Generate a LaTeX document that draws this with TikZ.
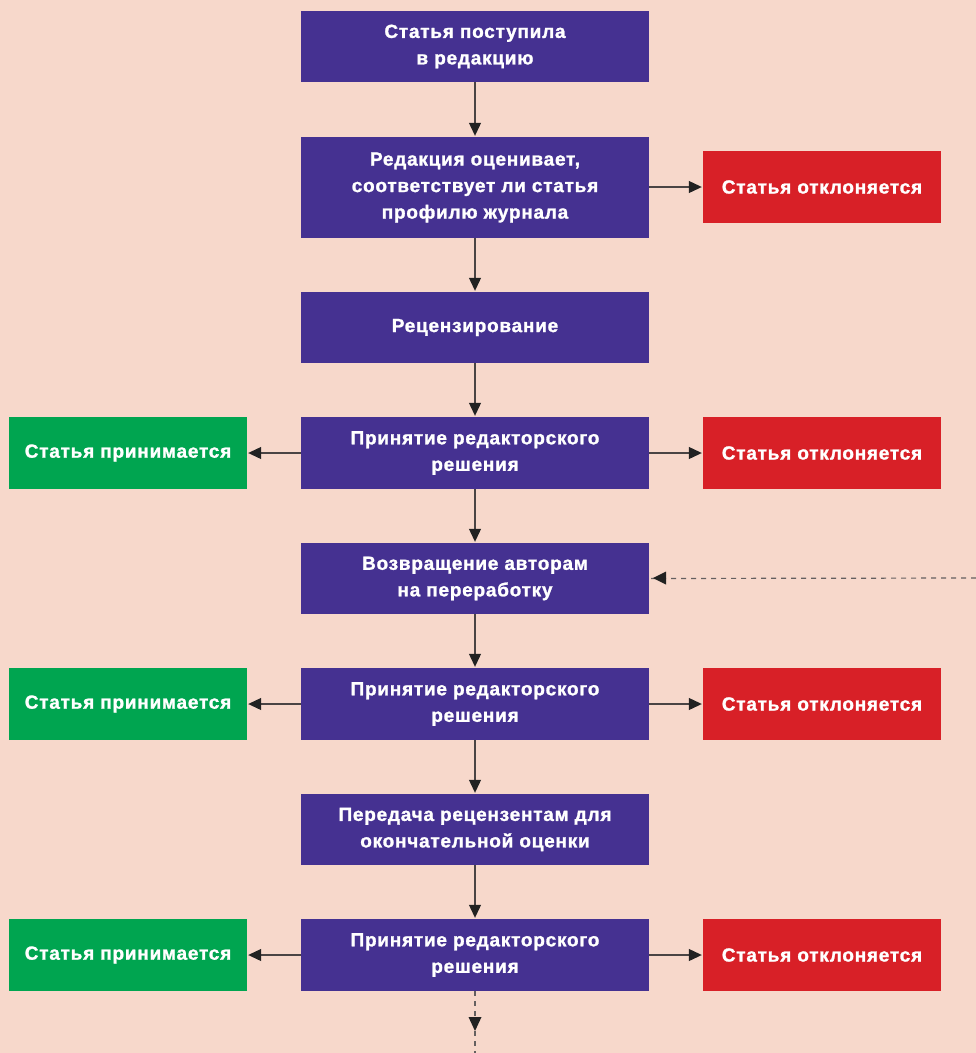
\documentclass[tikz,border=0pt]{standalone}
\usepackage{fontspec}
\setmainfont{Liberation Sans}
\newfontfamily\boxfont{Liberation Sans Bold}[LetterSpace=4,FakeBold=1.3]
\usetikzlibrary{arrows.meta}
\definecolor{bg}{HTML}{F7D8CB}
\definecolor{pur}{HTML}{453191}
\definecolor{rd}{HTML}{D82027}
\definecolor{gr}{HTML}{00A550}
\definecolor{ln}{HTML}{4A4444}
\definecolor{tip}{HTML}{222222}
\begin{document}
\begin{tikzpicture}[x=1pt,y=-1pt,
  box/.style={draw=none,minimum width=348pt,text=white,align=center,
    font=\boxfont\fontsize{19}{26.5}\selectfont,inner sep=0pt,
    execute at begin node={\vspace*{4pt}}},
  side/.style={draw=none,minimum width=238pt,minimum height=72pt,text=white,align=center,
    font=\boxfont\fontsize{19}{26.5}\selectfont,inner sep=0pt},
  pbox/.style={box,fill=pur},
  rbox/.style={side,fill=rd},
  gbox/.style={side,fill=gr},
  conn/.style={draw=ln,line width=1.1pt,-{Triangle[length=13pt,width=12pt,color=tip]},shorten >=1pt},
  dconn/.style={draw=ln!85,line width=1.2pt,dash pattern=on 5pt off 5pt}
]
\fill[bg] (0,0) rectangle (976,1053);
\useasboundingbox (0,0) rectangle (976,1053);

\node[pbox,minimum height=71pt] (b1) at (475,46.5) {Статья поступила\\в редакцию};
\node[pbox,minimum height=101pt] (b2) at (475,187.5) {Редакция оценивает,\\соответствует ли статья\\профилю журнала};
\node[pbox,minimum height=71pt] (b3) at (475,327.5) {Рецензирование};
\node[pbox,minimum height=72pt] (b4) at (475,453) {Принятие редакторского\\решения};
\node[pbox,minimum height=71pt] (b5) at (475,578.5) {Возвращение авторам\\на переработку};
\node[pbox,minimum height=72pt] (b6) at (475,704) {Принятие редакторского\\решения};
\node[pbox,minimum height=71pt] (b7) at (475,829.5) {Передача рецензентам для\\окончательной оценки};
\node[pbox,minimum height=72pt] (b8) at (475,955) {Принятие редакторского\\решения};

\node[rbox] (r2) at (822,187) {Статья отклоняется};
\node[rbox] (r4) at (822,453) {Статья отклоняется};
\node[rbox] (r6) at (822,704) {Статья отклоняется};
\node[rbox] (r8) at (822,955) {Статья отклоняется};

\node[gbox] (g4) at (128,453) {Статья принимается};
\node[gbox] (g6) at (128,704) {Статья принимается};
\node[gbox] (g8) at (128,955) {Статья принимается};

\coordinate (dr) at (976,578);
\coordinate (db) at (475,1053);
\coordinate (dm) at (475,1031);

\draw[conn] (b1) -- (b2);
\draw[conn] (b2) -- (b3);
\draw[conn] (b3) -- (b4);
\draw[conn] (b4) -- (b5);
\draw[conn] (b5) -- (b6);
\draw[conn] (b6) -- (b7);
\draw[conn] (b7) -- (b8);

\draw[conn] (b2.east|-r2) -- (r2);
\draw[conn] (b4) -- (r4);
\draw[conn] (b6) -- (r6);
\draw[conn] (b8) -- (r8);
\draw[conn] (b4) -- (g4);
\draw[conn] (b6) -- (g6);
\draw[conn] (b8) -- (g8);

\draw[dconn] (dr) -- (b5.east);
\fill[tip] (653,578) -- (666,571.5) -- (666,584.5) -- cycle;
\draw[dconn] (b8) -- (db);
\fill[tip] (dm) -- (468.5,1017) -- (481.5,1017) -- cycle;
\end{tikzpicture}
\end{document}
